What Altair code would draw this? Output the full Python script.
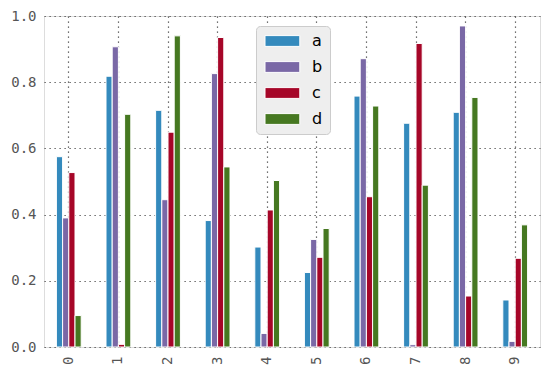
import altair as alt
import pandas as pd

categories = ["0", "1", "2", "3", "4", "5", "6", "7", "8", "9"]
series = ["a", "b", "c", "d"]
a = [0.575, 0.818, 0.715, 0.382, 0.302, 0.225, 0.758, 0.676, 0.709, 0.142]
b = [0.390, 0.907, 0.445, 0.826, 0.041, 0.325, 0.871, 0.007, 0.970, 0.017]
c = [0.527, 0.008, 0.649, 0.935, 0.414, 0.271, 0.454, 0.917, 0.154, 0.268]
d = [0.095, 0.703, 0.940, 0.544, 0.503, 0.358, 0.728, 0.489, 0.754, 0.369]
colors = ["#348ABD", "#7A68A6", "#A60628", "#467821"]

rows = []
for s, vals in zip(series, [a, b, c, d]):
    for cat, v in zip(categories, vals):
        rows.append({"cat": cat, "series": s, "value": v})
df = pd.DataFrame(rows)

mono = "DejaVu Sans Mono"

chart = alt.Chart(df).mark_bar(stroke="white", strokeWidth=1).encode(
    x=alt.X("cat:N", sort=categories, title=None,
            scale=alt.Scale(paddingInner=0.5, paddingOuter=0.25),
            axis=alt.Axis(labelAngle=-90, bandPosition=0.5, ticks=False, labelPadding=9,
                          grid=True, gridDash=[1.2, 3.8], gridColor="#444", gridWidth=1.2,
                          labelFont=mono, labelFontSize=14, labelColor="#555", domain=False)),
    xOffset=alt.XOffset("series:N", sort=series, scale=alt.Scale(paddingInner=0, paddingOuter=0)),
    y=alt.Y("value:Q", title=None,
            scale=alt.Scale(domain=[0, 1], nice=False),
            axis=alt.Axis(values=[0, 0.2, 0.4, 0.6, 0.8, 1.0], format=".1f", ticks=False,
                          labelPadding=8, grid=True, gridDash=[1.2, 3.8], gridColor="#444",
                          gridWidth=1.2, labelFont=mono, labelFontSize=14, labelColor="#555",
                          domain=False)),
    color=alt.Color("series:N", sort=series, scale=alt.Scale(domain=series, range=colors),
                    legend=alt.Legend(title=None, orient="none", legendX=212, legendY=10,
                                      symbolType="M-1,-0.9H4.8V0.9H-1Z", symbolSize=144,
                                      symbolStrokeWidth=1, symbolStrokeColor="white",
                                      labelFont="DejaVu Sans", labelFontSize=16,
                                      labelColor="black", labelOffset=33, rowPadding=10,
                                      padding=7, fillColor="#eeeeee", strokeColor="#cccccc",
                                      cornerRadius=4)),
).properties(
    width=496, height=331,
    autosize=alt.AutoSizeParams(type="none"),
    padding={"left": 36, "top": 8, "right": 2, "bottom": 20},
).configure_view(
    fill="#eeeeee", stroke="#bcbcbc", strokeWidth=2
).configure(background="white")

chart.save("out.html", embed_options={"renderer": "svg", "actions": False})
